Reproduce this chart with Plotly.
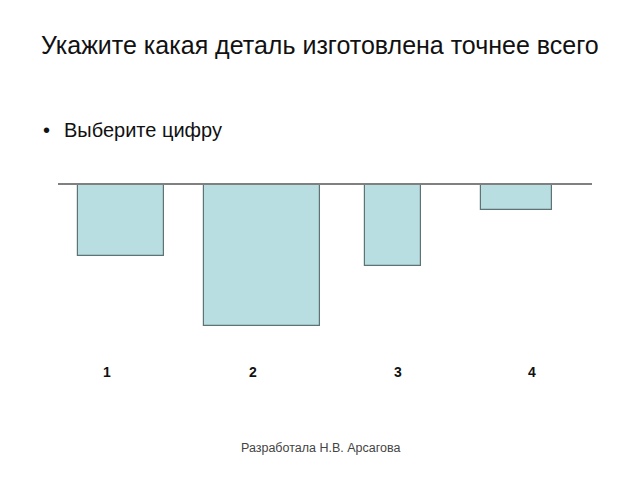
import plotly.graph_objects as go

# Data
categories = ["1", "2", "3", "4"]
values = [-7.0, -14.0, -8.0, -2.5]

# Layout helpers (bar placement in axis units)
bar_centers = [63.0, 204.0, 335.0, 458.7]
bar_widths = [86.0, 116.0, 55.5, 70.7]
label_px_x = [106.7, 252.7, 398.3, 532.3]

W, H = 640, 480
L, R, T, B = 58, 48, 185, 154

def px(x, y):
    return (x - L) / (W - L - R), 1 - (y - T) / (H - T - B)

fig = go.Figure()
fig.add_trace(go.Bar(
    x=bar_centers, y=values, width=bar_widths,
    marker=dict(color="#b9dee2", line=dict(color="#5e7373", width=1.2)),
    hoverinfo="skip", showlegend=False,
))

annotations = []
for lx, c in zip(label_px_x, categories):
    ax, ay = px(lx, 372)
    annotations.append(dict(x=ax, y=ay, xref="paper", yref="paper", text=f"<b>{c}</b>",
                            showarrow=False, font=dict(family="Liberation Sans", size=14, color="#111111"),
                            xanchor="center", yanchor="middle"))

tx, ty = px(320, 45)
annotations.append(dict(x=tx, y=ty, xref="paper", yref="paper",
                        text="Укажите какая деталь изготовлена точнее всего",
                        showarrow=False, font=dict(family="Liberation Sans", size=25, color="#111111"),
                        xanchor="center", yanchor="middle"))
bx, by = px(41, 130)
annotations.append(dict(x=bx, y=by, xref="paper", yref="paper",
                        text="•",
                        showarrow=False, font=dict(family="Liberation Sans", size=20, color="#111111"),
                        xanchor="left", yanchor="middle"))
bx2, _ = px(62, 130)
annotations.append(dict(x=bx2, y=by, xref="paper", yref="paper",
                        text="Выберите цифру",
                        showarrow=False, font=dict(family="Liberation Sans", size=20, color="#111111"),
                        xanchor="left", yanchor="middle"))
fx, fy = px(320, 448)
annotations.append(dict(x=fx, y=fy, xref="paper", yref="paper",
                        text="Разработала Н.В. Арсагова",
                        showarrow=False, font=dict(family="Liberation Sans", size=12.5, color="#444444"),
                        xanchor="center", yanchor="middle"))

fig.update_layout(
    width=W, height=H,
    margin=dict(l=L, r=R, t=T, b=B, pad=0),
    paper_bgcolor="white", plot_bgcolor="white",
    xaxis=dict(range=[0, W - L - R], showgrid=False, zeroline=False, showticklabels=False,
               showline=True, side="top", linecolor="#808080", linewidth=1.5, ticks=""),
    yaxis=dict(range=[-14.0, 0], showgrid=False, zeroline=False, showticklabels=False,
               showline=False, ticks=""),
    annotations=annotations,
    bargap=0,
)

fig.write_html("out.html")
